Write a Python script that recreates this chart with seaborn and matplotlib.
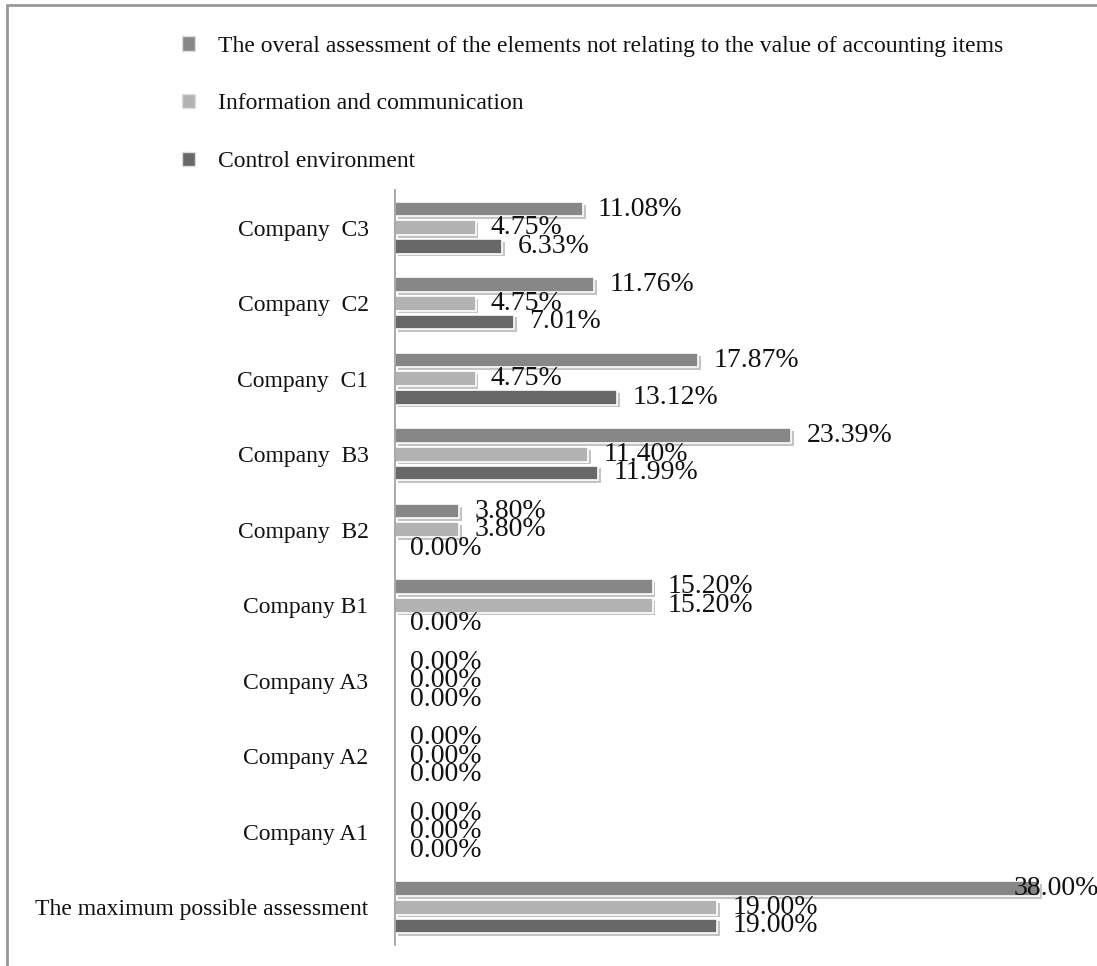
import numpy as np
import matplotlib.pyplot as plt
import matplotlib.patheffects as pe
from matplotlib.lines import Line2D
import pandas as pd
import seaborn as sns

# categories, top to bottom as drawn
companies = ['Company  C3', 'Company  C2', 'Company  C1', 'Company  B3', 'Company  B2',
             'Company B1', 'Company A3', 'Company A2', 'Company A1',
             'The maximum possible assessment']
series = ['The overal assessment of the elements not relating to the value of accounting items',
          'Information and communication',
          'Control environment']
overall = [11.08, 11.76, 17.87, 23.39, 3.80, 15.20, 0.00, 0.00, 0.00, 38.00]
info = [4.75, 4.75, 4.75, 11.40, 3.80, 15.20, 0.00, 0.00, 0.00, 19.00]
control = [6.33, 7.01, 13.12, 11.99, 0.00, 0.00, 0.00, 0.00, 0.00, 19.00]
colors = ['#878787', '#b3b3b3', '#686868']

rows = []
for s, vals in zip(series, [overall, info, control]):
    for c, v in zip(companies, vals):
        rows.append({'company': c, 'series': s, 'value': v})
df = pd.DataFrame(rows)

sns.set_style('white')
plt.rcParams['font.family'] = ['Liberation Serif', 'DejaVu Serif']

fig = plt.figure(figsize=(10.97, 9.66), dpi=100)
ax = fig.add_axes([395 / 1097, 21 / 966, (1090 - 395) / 1097, 755 / 966])

sns.barplot(data=df, y='company', x='value', hue='series', orient='h',
            order=companies, hue_order=series, palette=colors,
            width=0.74, gap=0.22, edgecolor='white', linewidth=1.2, ax=ax)

shadow = [pe.SimplePatchShadow(offset=(2, -2), shadow_rgbFace='#555555', alpha=0.35), pe.Normal()]
for cont in ax.containers:
    for bar in cont:
        bar.set_path_effects(shadow)

# value labels
for cont, vals in zip(ax.containers, [overall, info, control]):
    for bar, v in zip(cont, vals):
        y = bar.get_y() + bar.get_height() / 2
        x = min(v + 0.9, 36.5)
        ax.text(x, y, f'{v:.2f}%', va='center', ha='left', fontsize=20, color='#111111')

ax.set_xlim(0, 41)
ax.set_ylim(9.5, -0.5)
ax.set_xlabel('')
ax.set_ylabel('')
ax.set_xticks([])
ax.tick_params(axis='y', length=0, pad=19, labelsize=17)
for lab in ax.get_yticklabels():
    lab.set_color('#111111')
for side in ['top', 'right', 'bottom']:
    ax.spines[side].set_visible(False)
ax.spines['left'].set_color('#999999')
ax.spines['left'].set_linewidth(1.2)

ax.get_legend().remove()
handles = [plt.Rectangle((0, 0), 1, 1, facecolor=c, edgecolor='#dddddd', linewidth=1) for c in colors]
fig.legend(handles, series, loc='upper left', bbox_to_anchor=(170 / 1097, 1 - 24 / 966),
           frameon=False, fontsize=17, handlelength=0.55, handleheight=0.55,
           handletextpad=1.0, labelspacing=1.55, borderpad=0, labelcolor='#111111')

# figure border (left and top)
fig.add_artist(Line2D([7 / 1097, 7 / 1097], [0, 1 - 5 / 966], transform=fig.transFigure,
                      color='#999999', linewidth=2))
fig.add_artist(Line2D([7 / 1097, 1], [1 - 5 / 966, 1 - 5 / 966], transform=fig.transFigure,
                      color='#999999', linewidth=2))

fig.savefig('out.png', dpi=100)
